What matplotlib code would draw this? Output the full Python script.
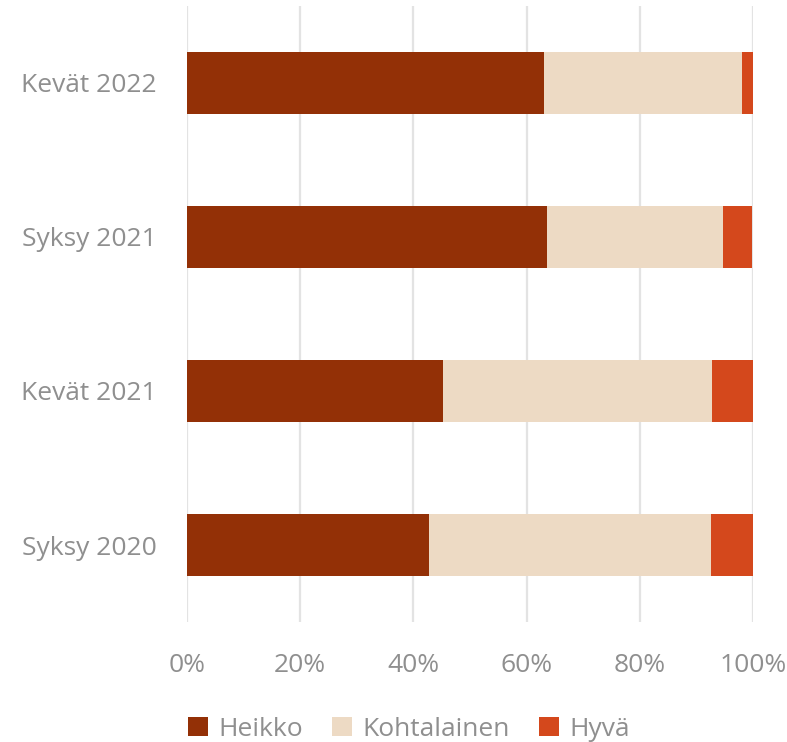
#!/usr/bin/env python3

"""Stacked horizontal bar chart: Heikko / Kohtalainen / Hyvä by survey round."""

import matplotlib
matplotlib.use("Agg")
import matplotlib.pyplot as plt
from matplotlib.ticker import PercentFormatter

plt.rcParams["font.family"] = ["Open Sans", "DejaVu Sans"]

CATEGORIES = ["Syksy 2020", "Kevät 2021", "Syksy 2021", "Kevät 2022"]
SERIES = ["Heikko", "Kohtalainen", "Hyvä"]
HEIKKO = [42.8, 45.3, 63.5, 63.1]
KOHTALAINEN = [49.8, 47.4, 31.2, 35.0]
HYVA = [7.4, 7.3, 5.1, 1.9]
COLORS = ["#933006", "#EDDAC4", "#D4481C"]
TEXT_GRAY = "#8f8f8f"

fig = plt.figure(figsize=(7.87, 7.42), dpi=100)
ax = fig.add_axes([0.2376, 0.1617, 0.7194, 0.8303])

ypos = range(len(CATEGORIES))
left = [0.0] * len(CATEGORIES)
for name, vals, color in zip(SERIES, [HEIKKO, KOHTALAINEN, HYVA], COLORS):
    ax.barh(ypos, vals, left=left, height=0.4, color=color, label=name, zorder=3)
    left = [a + b for a, b in zip(left, vals)]

ax.set_xlim(0, 100)
ax.set_ylim(-0.5, 3.5)
ax.set_xticks(range(0, 101, 20))
ax.xaxis.set_major_formatter(PercentFormatter(decimals=0))
ax.set_yticks(list(ypos))
ax.set_yticklabels(CATEGORIES)

ax.grid(axis="x", color="#e3e3e3", linewidth=1.6, zorder=0)
for s in ax.spines.values():
    s.set_visible(False)
ax.tick_params(axis="both", length=0, labelsize=19, labelcolor=TEXT_GRAY)
ax.tick_params(axis="x", pad=22)
ax.tick_params(axis="y", pad=22)

fig.legend(loc="lower center", bbox_to_anchor=(0.52, -0.032), ncol=3, frameon=False,
           fontsize=19, labelcolor=TEXT_GRAY, handlelength=0.75, handleheight=0.75,
           handletextpad=0.4, columnspacing=1.1)

fig.savefig("out.png", dpi=100)
plt.close(fig)
